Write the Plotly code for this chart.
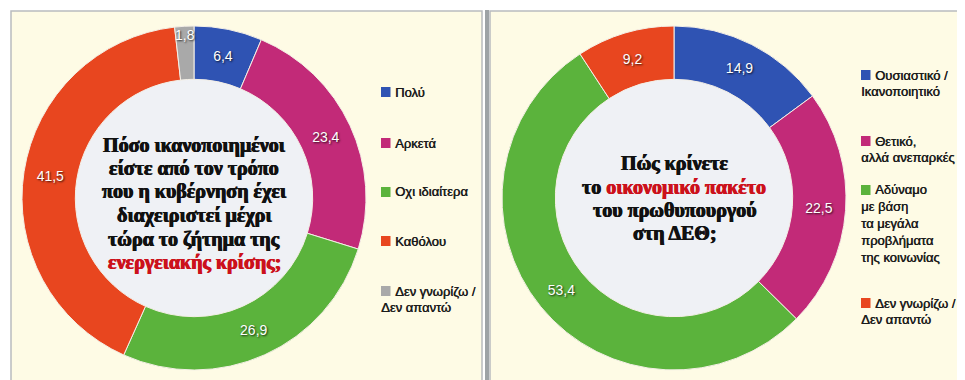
import plotly.graph_objects as go

W, H = 965, 380

RED = "#cc111b"
RED_STYLE = ("color:%s;text-shadow:0.6px 0 0 %s, -0.4px 0 0 %s" % (RED, RED, RED))

# ---------------- data ----------------
left_labels = ["Πολύ", "Αρκετά", "Οχι ιδιαίτερα", "Καθόλου", "Δεν γνωρίζω /<br>Δεν απαντώ"]
left_values = [6.4, 23.4, 26.9, 41.5, 1.8]
left_colors = ["#2f53b3", "#c22a78", "#5bb33c", "#e8461f", "#a9a9a9"]
left_question = ["Πόσο ικανοποιημένοι", "είστε από τον τρόπο", "που η κυβέρνηση έχει",
                 "διαχειριστεί μέχρι", "τώρα το ζήτημα της",
                 "<span style='%s'>ενεργειακής κρίσης;</span>" % RED_STYLE]

right_labels = ["Ουσιαστικό /<br>Ικανοποιητικό", "Θετικό,<br>αλλά ανεπαρκές",
                "Αδύναμο<br>με βάση<br>τα μεγάλα<br>προβλήματα<br>της κοινωνίας",
                "Δεν γνωρίζω /<br>Δεν απαντώ"]
right_values = [14.9, 22.5, 53.4, 9.2]
right_colors = ["#2f53b3", "#c22a78", "#5bb33c", "#e8461f"]
right_question = ["Πώς κρίνετε",
                  "το <span style='%s'>οικονομικό πακέτο</span>" % RED_STYLE,
                  "του πρωθυπουργού", "στη ΔΕΘ;"]

# ---------------- layout helpers ----------------
def px(x):
    return x / W

def py(y):
    return 1 - y / H

R = 172
left_c = (186, 190)
right_c = (666, 190)
HOLE = 0.69

fig = go.Figure()

def add_pie(center, labels, values, colors):
    cx, cy = center
    fig.add_trace(go.Pie(
        labels=[l.replace("<br>", " ") for l in labels],
        values=values,
        sort=False,
        direction="clockwise",
        rotation=0,
        hole=HOLE,
        marker=dict(colors=colors, line=dict(color="#f4efe6", width=1)),
        texttemplate="%{value:.1f}",
        textposition="inside",
        insidetextorientation="horizontal",
        textfont=dict(family="Liberation Sans", size=14, color="white",
                      shadow="1px 1px 2px rgba(0,0,0,0.75)"),
        hoverinfo="skip",
        showlegend=False,
        domain=dict(x=[px(cx - R), px(cx + R)], y=[py(cy + R), py(cy - R)]),
    ))

add_pie(left_c, left_labels, left_values, left_colors)
add_pie(right_c, right_labels, right_values, right_colors)

shapes = []
annotations = []

# panels
shapes.append(dict(type="rect", xref="paper", yref="paper",
                   x0=px(3), x1=px(474), y0=py(377), y1=py(3),
                   fillcolor="#fefbe5", line=dict(color="#b9bcbf", width=1.5), layer="below"))
shapes.append(dict(type="rect", xref="paper", yref="paper",
                   x0=px(477), x1=px(481), y0=py(378), y1=py(2),
                   fillcolor="#9ea3a6", line=dict(width=0), layer="below"))
shapes.append(dict(type="rect", xref="paper", yref="paper",
                   x0=px(482), x1=px(955), y0=py(377), y1=py(3),
                   fillcolor="#fefbe5", line=dict(color="#b9bcbf", width=1.5), layer="below"))
shapes.append(dict(type="rect", xref="paper", yref="paper",
                   x0=px(956), x1=px(963), y0=py(378), y1=py(2),
                   fillcolor="#a4a8ab", line=dict(width=0), layer="below"))

# inner discs
for (cx, cy) in (left_c, right_c):
    r = R * HOLE + 4
    shapes.append(dict(type="circle", xref="paper", yref="paper",
                       x0=px(cx - r), x1=px(cx + r), y0=py(cy + r), y1=py(cy - r),
                       fillcolor="#eff1f5", line=dict(width=0), layer="below"))

# center questions
QFONT = dict(family="Liberation Serif", size=20, color="#111111",
             shadow="0.6px 0 0 #111111, -0.4px 0 0 #111111")

def add_question(lines, cx, y0, step):
    for i, line in enumerate(lines):
        annotations.append(dict(xref="paper", yref="paper", x=px(cx), y=py(y0 + i * step),
                                text="<b>" + line + "</b>", showarrow=False,
                                xanchor="center", yanchor="middle", font=QFONT))

add_question(left_question, 186, 137, 23.5)
add_question(right_question, 666, 156, 23.2)

# legends
LFONT = dict(family="Liberation Sans", size=13, color="#1a1a1a",
             shadow="0.45px 0 0 #1a1a1a")

def add_legend(labels, colors, mx, ys):
    for lab, col, y in zip(labels, colors, ys):
        shapes.append(dict(type="rect", xref="paper", yref="paper",
                           x0=px(mx), x1=px(mx + 9.5), y0=py(y + 5), y1=py(y - 5),
                           fillcolor=col, line=dict(width=0)))
        parts = lab.split("<br>")
        annotations.append(dict(xref="paper", yref="paper", x=px(mx + 12), y=py(y),
                                text=parts[0], showarrow=False, xanchor="left", yanchor="middle",
                                font=LFONT))
        if len(parts) > 1:
            annotations.append(dict(xref="paper", yref="paper", x=px(mx - 2), y=py(y + 7),
                                    text="<br>".join(parts[1:]), showarrow=False,
                                    xanchor="left", yanchor="top", align="left",
                                    font=LFONT))

add_legend(left_labels, left_colors, 373, [84, 135, 184, 233, 283])
add_legend(right_labels, right_colors, 853, [67, 133, 182, 295])

fig.update_layout(
    width=W, height=H,
    margin=dict(l=0, r=0, t=0, b=0),
    paper_bgcolor="white",
    plot_bgcolor="white",
    separators=",.",
    uniformtext=dict(minsize=14, mode="show"),
    shapes=shapes,
    annotations=annotations,
)

fig.write_html("out.html")
